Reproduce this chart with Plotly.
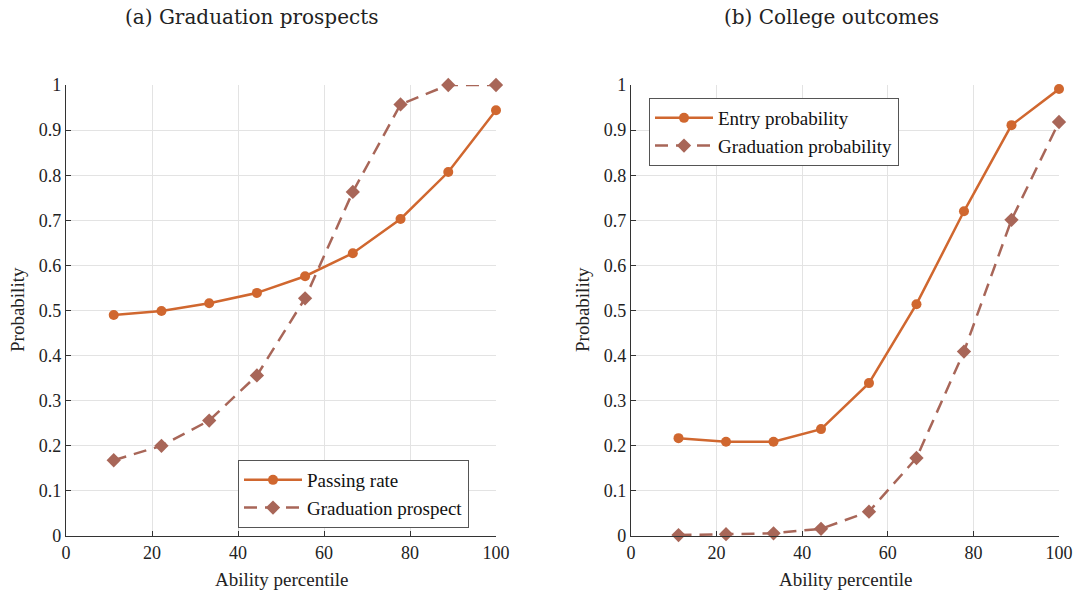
import plotly.graph_objects as go

# ---- data ----
percentile = [11.1, 22.2, 33.3, 44.4, 55.6, 66.7, 77.8, 88.9, 100.0]
passing_rate = [0.490, 0.499, 0.516, 0.539, 0.576, 0.627, 0.703, 0.807, 0.944]
graduation_prospect = [0.168, 0.200, 0.256, 0.356, 0.527, 0.763, 0.957, 1.0, 1.0]
entry_probability = [0.217, 0.209, 0.209, 0.237, 0.339, 0.514, 0.720, 0.911, 0.991]
graduation_probability = [0.002, 0.004, 0.006, 0.016, 0.054, 0.173, 0.409, 0.701, 0.918]

y_ticks = [0, 0.1, 0.2, 0.3, 0.4, 0.5, 0.6, 0.7, 0.8, 0.9, 1]
y_tick_text = ["0", "0.1", "0.2", "0.3", "0.4", "0.5", "0.6", "0.7", "0.8", "0.9", "1"]
x_ticks = [0, 20, 40, 60, 80, 100]

W, H = 1078, 595
ORANGE = "#D0672F"
BROWN = "#A86658"
SERIF = "Liberation Serif"

fig = go.Figure()

def solid(x, y, name, xa, ya, leg):
    return go.Scatter(x=x, y=y, name=name, mode="lines+markers", xaxis=xa, yaxis=ya,
                      legend=leg, cliponaxis=False, line=dict(color=ORANGE, width=2.5),
                      marker=dict(symbol="circle", size=10, color=ORANGE))

def dashed(x, y, name, xa, ya, leg):
    return go.Scatter(x=x, y=y, name=name, mode="lines+markers", xaxis=xa, yaxis=ya,
                      legend=leg, cliponaxis=False,
                      line=dict(color=BROWN, width=2.5, dash="13px,8px"),
                      marker=dict(symbol="diamond", size=11, color=BROWN))

fig.add_trace(solid(percentile, passing_rate, "Passing rate", "x", "y", "legend"))
fig.add_trace(dashed(percentile, graduation_prospect, "Graduation prospect", "x", "y", "legend"))
fig.add_trace(solid(percentile, entry_probability, "Entry probability", "x2", "y2", "legend2"))
fig.add_trace(dashed(percentile, graduation_probability, "Graduation probability", "x2", "y2", "legend2"))

y0 = (H - 536) / H
y1 = (H - 85) / H
xdomL = [66 / W, 496 / W]
xdomR = [631 / W, 1059 / W]

axis_common = dict(showgrid=True, gridcolor="#E3E3E3", gridwidth=1,
                   showline=True, linecolor="#333333", linewidth=1.2,
                   ticks="inside", ticklen=5, tickcolor="#333333",
                   tickfont=dict(family=SERIF, size=18, color="#222222"),
                   zeroline=False, fixedrange=True, automargin=False)

legend_common = dict(xanchor="left", yanchor="top", bgcolor="white",
                     bordercolor="#555555", borderwidth=1,
                     font=dict(family=SERIF, size=19, color="#111111"),
                     tracegroupgap=0, itemwidth=58)

fig.update_layout(
    width=W, height=H,
    margin=dict(l=0, r=0, t=0, b=0, pad=0, autoexpand=False),
    paper_bgcolor="white", plot_bgcolor="white",
    showlegend=True,
    xaxis=dict(domain=xdomL, range=[0, 100], tickvals=x_ticks, anchor="y", **axis_common),
    yaxis=dict(domain=[y0, y1], range=[0, 1], tickvals=y_ticks, ticktext=y_tick_text,
               anchor="x", **axis_common),
    xaxis2=dict(domain=xdomR, range=[0, 100], tickvals=x_ticks, anchor="y2", **axis_common),
    yaxis2=dict(domain=[y0, y1], range=[0, 1], tickvals=y_ticks, ticktext=y_tick_text,
                anchor="x2", **axis_common),
    legend=dict(x=238 / W, y=1 - 460 / H, **legend_common),
    legend2=dict(x=649 / W, y=1 - 98 / H, **legend_common),
)

ann_font = dict(family=SERIF, size=19, color="#222222")
title_font = dict(family="DejaVu Serif", size=20, color="#222222")
annotations = [
    dict(text="(a) Graduation prospects", x=251 / W, y=1 - 17 / H, font=title_font),
    dict(text="(b) College outcomes", x=831 / W, y=1 - 17 / H, font=title_font),
    dict(text="Ability percentile", x=281 / W, y=1 - 579 / H, font=ann_font),
    dict(text="Ability percentile", x=845 / W, y=1 - 579 / H, font=ann_font),
    dict(text="Probability", x=17 / W, y=1 - 310 / H, font=ann_font, textangle=-90),
    dict(text="Probability", x=582 / W, y=1 - 310 / H, font=ann_font, textangle=-90),
]
for a in annotations:
    fig.add_annotation(xref="paper", yref="paper", showarrow=False,
                       xanchor="center", yanchor="middle", **a)

fig.write_html("out.html")
